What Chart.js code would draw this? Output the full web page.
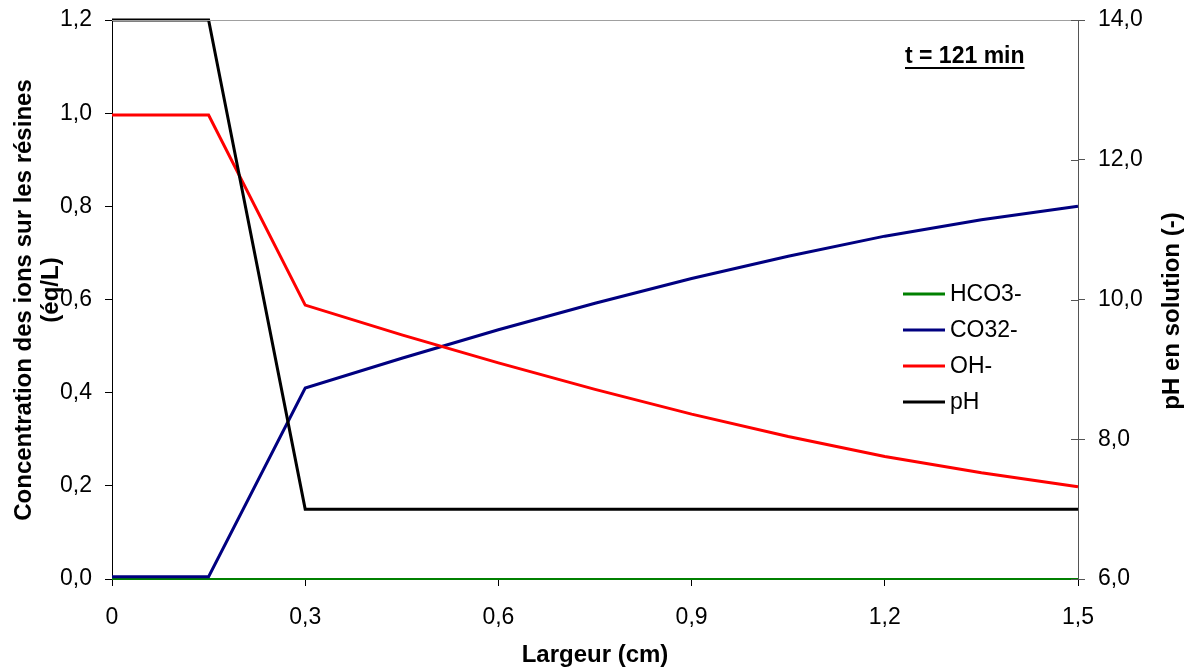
<!DOCTYPE html>
<html>
<head>
<meta charset="utf-8">
<script src="https://cdn.jsdelivr.net/npm/chart.js@4"></script>
<style>
  html, body { margin: 0; padding: 0; background: #fff; }
  #wrap { width: 1187px; height: 670px; }
</style>
</head>
<body>
<div id="wrap"><canvas id="chart" width="1187" height="670"></canvas></div>
<script>
// data
var largeur = [0, 0.15, 0.3, 0.45, 0.6, 0.75, 0.9, 1.05, 1.2, 1.35, 1.5]
var hco3 = [0, 0, 0, 0, 0, 0, 0, 0, 0, 0, 0]
var co3 = [0.005, 0.005, 0.410, 0.474, 0.535, 0.592, 0.645, 0.693, 0.736, 0.771, 0.800]
var oh = [0.996, 0.996, 0.588, 0.524, 0.464, 0.407, 0.354, 0.306, 0.263, 0.228, 0.198]
var ph = [14, 14, 7, 7, 7, 7, 7, 7, 7, 7, 7]
var xTicks = [0, 0.3, 0.6, 0.9, 1.2, 1.5]
var seriesNames = ['HCO3-', 'CO32-', 'OH-', 'pH']
var seriesColors = ['#008000', '#000080', '#ff0000', '#000000']
var titleText = 't = 121 min'

var FONT = "'Liberation Sans', Arial, sans-serif"

function pts(ys) {
    return largeur.map(function (x, i) { return { x: x, y: ys[i] } })
}
function comma(v, d) {
    return v.toFixed(d).replace('.', ',')
}
function noPad(s) {
    s.paddingTop = 0
    s.paddingBottom = 0
    s.paddingLeft = 0
    s.paddingRight = 0
}

// legend, titles, top border and inner ticks of the right axis drawn by hand
var decor = {
    id: 'decor',
    afterDraw: function (chart) {
        var ctx = chart.ctx
        var a = chart.chartArea
        ctx.save()
        // top border
        ctx.strokeStyle = '#a0a0a0'
        ctx.lineWidth = 1
        ctx.beginPath()
        ctx.moveTo(a.left, a.top + 0.5)
        ctx.lineTo(a.right, a.top + 0.5)
        ctx.stroke()

        // right axis ticks cross the axis line
        var s = chart.scales.y2
        ctx.strokeStyle = '#555'
        s.ticks.forEach(function (t) {
            var py = Math.round(s.getPixelForValue(t.value)) + 0.5
            ctx.beginPath()
            ctx.moveTo(a.right - 7, py)
            ctx.lineTo(a.right, py)
            ctx.stroke()
        })

        // legend
        ctx.font = '23px ' + FONT
        ctx.textBaseline = 'middle'
        ctx.textAlign = 'left'
        for (var i = 0; i < seriesNames.length; i++) {
            var y = 294 + i * 36
            ctx.strokeStyle = seriesColors[i]
            ctx.lineWidth = 3
            ctx.beginPath()
            ctx.moveTo(903, y)
            ctx.lineTo(945, y)
            ctx.stroke()
            ctx.fillStyle = '#000'
            ctx.fillText(seriesNames[i], 950, y + 1)
        }

        // time label, underlined
        ctx.font = 'bold 23px ' + FONT
        ctx.fillStyle = '#000'
        var w = ctx.measureText(titleText).width
        ctx.fillText(titleText, 905, 57)
        ctx.fillRect(905, 67, w, 2)

        // axis titles
        ctx.font = 'bold 24px ' + FONT
        ctx.textAlign = 'center'
        ctx.fillText('Largeur (cm)', (a.left + a.right) / 2, 655)

        ctx.textBaseline = 'alphabetic'
        ctx.save()
        ctx.translate(31, 300)
        ctx.rotate(-Math.PI / 2)
        ctx.fillText('Concentration des ions sur les résines', 0, 0)
        ctx.fillText('(éq/L)', 10, 27)
        ctx.restore()

        ctx.save()
        ctx.translate(1179, 311)
        ctx.rotate(-Math.PI / 2)
        ctx.fillText('pH en solution (-)', 0, 0)
        ctx.restore()

        ctx.restore()
    }
}

var tickFont = { family: FONT, size: 23 }

new Chart(document.getElementById('chart').getContext('2d'), {
    type: 'line',
    data: {
        datasets: [
            { label: seriesNames[0], data: pts(hco3), yAxisID: 'y', borderColor: seriesColors[0], borderWidth: 2, order: 3 },
            { label: seriesNames[1], data: pts(co3), yAxisID: 'y', borderColor: seriesColors[1], borderWidth: 3, order: 2 },
            { label: seriesNames[2], data: pts(oh), yAxisID: 'y', borderColor: seriesColors[2], borderWidth: 3, order: 1 },
            { label: seriesNames[3], data: pts(ph), yAxisID: 'y2', borderColor: seriesColors[3], borderWidth: 3, order: 0 }
        ]
    },
    options: {
        responsive: false,
        animation: false,
        layout: { padding: { top: 20, left: 0, right: 0, bottom: 0 } },
        elements: {
            point: { radius: 0 },
            line: { tension: 0, fill: false, borderCapStyle: 'butt' }
        },
        datasets: { line: { clip: 4 } },
        plugins: { legend: { display: false }, tooltip: { enabled: false } },
        scales: {
            x: {
                type: 'linear',
                min: 0,
                max: 1.5,
                afterBuildTicks: function (s) { s.ticks = xTicks.map(function (v) { return { value: v } }) },
                afterFit: function (s) { s.height = 91; noPad(s) },
                grid: { drawOnChartArea: false, tickLength: 7, color: '#000' },
                border: { color: '#000', width: 1 },
                ticks: {
                    color: '#000',
                    font: tickFont,
                    padding: 18,
                    maxRotation: 0,
                    callback: function (v) { return v === 0 ? '0' : comma(v, 1) }
                }
            },
            y: {
                position: 'left',
                min: 0,
                max: 1.2,
                afterFit: function (s) { s.width = 112; noPad(s) },
                grid: { drawOnChartArea: false, tickLength: 7, color: '#000' },
                border: { color: '#000', width: 1 },
                ticks: {
                    stepSize: 0.2,
                    color: '#000',
                    font: tickFont,
                    padding: 13,
                    callback: function (v) { return comma(v, 1) }
                }
            },
            y2: {
                position: 'right',
                min: 6,
                max: 14,
                afterFit: function (s) { s.width = 109; noPad(s) },
                grid: { drawOnChartArea: false, tickLength: 7, color: '#555' },
                border: { color: '#555', width: 1 },
                ticks: {
                    stepSize: 2,
                    color: '#000',
                    font: tickFont,
                    padding: 13,
                    callback: function (v) { return comma(v, 1) }
                }
            }
        }
    },
    plugins: [decor]
})
</script>
</body>
</html>
